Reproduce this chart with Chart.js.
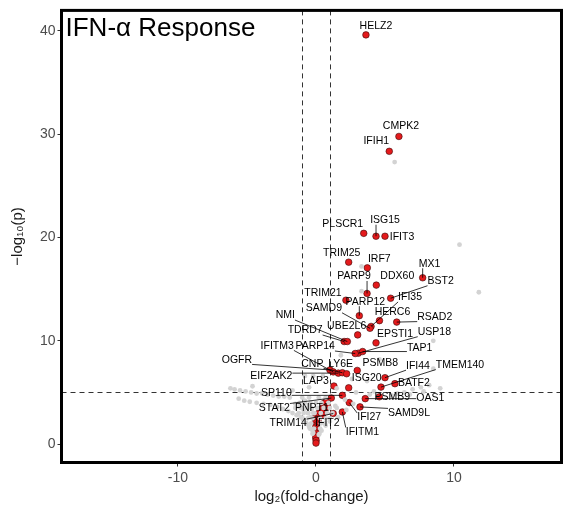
<!DOCTYPE html>
<html>
<head>
<meta charset="utf-8">
<script src="https://cdn.jsdelivr.net/npm/chart.js@4.4.1/dist/chart.umd.min.js"></script>
<style>
  html, body { margin: 0; padding: 0; background: #fff; }
  canvas { display: block; }
</style>
</head>
<body>
<canvas id="volcano" width="563" height="514"></canvas>
<script>
// labelled significant genes: log2 fold-change and -log10 p
const geneNames = ["HELZ2", "CMPK2", "IFIH1", "PLSCR1", "ISG15", "IFIT3", "TRIM25", "IRF7", "PARP9", "DDX60",
  "MX1", "BST2", "TRIM21", "PARP12", "IFI35", "SAMD9", "HERC6", "RSAD2", "UBE2L6", "TDRD7",
  "NMI", "EPSTI1", "USP18", "TAP1", "PARP14", "OGFR", "IFITM3", "EIF2AK2", "CNP", "LY6E",
  "PSMB8", "ISG20", "IFI44", "TMEM140", "BATF2", "LAP3", "SP110", "PSMB9", "OAS1", "STAT2",
  "PNPT1", "SAMD9L", "IFI27", "TRIM14", "IFIT2", "IFITM1"];
const geneLogFC = [3.62, 6.01, 5.31, 3.46, 4.35, 5.00, 2.37, 3.72, 3.70, 4.37,
  7.73, 5.41, 2.17, 3.14, 3.99, 3.91, 4.60, 5.85, 3.02, 2.04,
  2.27, 4.35, 3.07, 3.38, 2.84, 1.01, 1.25, 1.62, 1.91, 2.22,
  2.99, 2.37, 5.00, 4.71, 5.72, 1.30, 1.91, 4.59, 3.57, 1.11,
  0.72, 3.19, 2.41, 1.25, 0.46, 1.91];
const geneLogP = [39.61, 29.78, 28.34, 20.40, 20.12, 20.12, 17.61, 17.06, 14.58, 15.39,
  16.10, 14.12, 13.93, 12.43, 11.39, 11.21, 11.95, 11.81, 10.57, 9.93,
  9.93, 9.80, 8.80, 8.96, 8.77, 7.18, 6.99, 6.87, 6.91, 6.81,
  7.13, 5.45, 6.43, 5.52, 5.85, 5.62, 4.72, 4.58, 4.40, 4.46,
  4.05, 3.60, 4.02, 2.96, 2.80, 3.11];

// unlabelled significant genes
const otherLogFC = [0.85, 0.53, 0.78, 0.60, 0.22, 0.24, 0.41, 0.53, 0.17, 0.00, -0.07, 0.05, 0.17,
  0.02, -0.03, 0.03, -0.02, 0.01, -0.03, 0.02, 0.00, -0.02, 0.01, 0.00];
const otherLogP = [3.60, 3.60, 3.85, 3.98, 2.96, 2.70, 3.37, 3.18, 2.96, 2.70, 2.48, 2.38, 2.15,
  2.25, 2.05, 1.85, 1.65, 1.45, 1.25, 1.05, 0.85, 0.60, 0.35, 0.10];

// background (not significant) genes
const bgLogFC = [5.7, 3.3, 3.3, 10.4, 11.8, 8.5, 4.6, 8.5, 7.6, 8.2, 7.0, 6.4, 5.5, 5.9, 6.8, 7.8, 9.0,
  4.2, 3.7, 2.6, 1.8, 0.5, 1.5, 2.9, 3.9, 2.1, 2.7, 1.4, 2.2, 1.6, 1.0, 0.7, 0.4, 0.2,
  -6.2, -5.9, -5.5, -5.1, -4.7, -4.3, -3.9, -3.5, -3.1, -2.7, -2.3, -1.9,
  -5.6, -5.2, -4.8, -4.3, -3.8, -3.3, -2.8, -2.4, -2.0, -1.7, -1.4, -1.1, -0.9, -0.7, -0.5, -0.3, -0.2,
  -1.5, -1.2, -0.9, -0.6, -0.4, -0.8, -0.5, -0.3, -0.1, -0.8, -0.2, -1.7, -0.5, -4.6,
  -0.25, 0.25, -0.45, -0.15, 0.3, -0.7, -0.35, 0.35, 0.65,
  -0.95, -0.6, -0.25, 0.3, 0.7, 1.0, -1.25, -0.9, -0.55, -0.2, 0.35, 0.8, 1.2,
  -1.5, -1.1, -0.7, -0.35, 0.1, 0.55, 1.0, 1.5, -1.2, -0.8, -0.4, 0.0, 0.4, 0.9,
  -1.0, -0.5, 0.2, 0.7];
const bgLogP = [27.3, 17.2, 14.8, 19.3, 14.7, 10.0, 8.2, 7.3, 5.5, 5.7, 5.3, 5.0, 4.7, 4.9, 4.8, 5.1, 5.4,
  5.1, 6.1, 6.3, 8.6, 6.6, 5.4, 5.0, 4.8, 4.3, 3.9, 3.7, 3.3, 2.6, 2.2, 1.8, 1.3, 0.9,
  5.4, 5.3, 5.2, 5.1, 5.0, 4.9, 4.9, 4.8, 4.7, 4.6, 4.6, 4.5,
  4.4, 4.2, 4.1, 4.0, 3.9, 3.8, 3.6, 3.4, 3.2, 3.0, 2.8, 2.6, 2.3, 2.0, 1.7, 1.4, 1.1,
  3.9, 3.6, 3.3, 3.0, 2.6, 4.2, 3.8, 3.4, 3.0, 6.6, 6.6, 5.2, 5.5, 5.6,
  1.0, 1.0, 1.5, 1.5, 1.5, 2.0, 2.0, 2.0, 2.0,
  2.5, 2.5, 2.5, 2.5, 2.5, 2.5, 3.0, 3.0, 3.0, 3.0, 3.0, 3.0, 3.0,
  3.5, 3.5, 3.5, 3.5, 3.5, 3.5, 3.5, 3.5, 4.0, 4.0, 4.0, 4.0, 4.0, 4.0,
  4.5, 4.5, 4.5, 4.5];

const xTicks = [-10, 0, 10];
const yTicks = [0, 10, 20, 30, 40];
const fcCutoff = 1;
const pCutoff = 5;
const chartTitle = "IFN-\u03b1 Response";

// where each gene label sits relative to its point, in pixels
const labelOffsets = {
  HELZ2: [10, -9], CMPK2: [2, -10], IFIH1: [-13, -10], PLSCR1: [-21, -9], ISG15: [9, -16],
  IFIT3: [17, 1], TRIM25: [-7, -9], IRF7: [12, -9], PARP9: [-13, -17], DDX60: [21, -9],
  MX1: [7, -14], BST2: [50, -17], TRIM21: [-23, -7], PARP12: [6, -14], IFI35: [39, -29],
  SAMD9: [-46, -20], HERC6: [13, -9], RSAD2: [38, -5], UBE2L6: [-11, -9], TDRD7: [-39, -11],
  NMI: [-62, -26], EPSTI1: [19, -9], USP18: [76, -21], TAP1: [57, -3], PARP14: [-40, -7],
  OGFR: [-93, -10], IFITM3: [-56, -26], EIF2AK2: [-67, 3], CNP: [-30, -9], LY6E: [-6, -10],
  PSMB8: [23, -7], ISG20: [18, -10], IFI44: [33, -12], TMEM140: [79, -22], BATF2: [19, -1],
  LAP3: [-18, -5], SP110: [-66, -2], PSMB9: [13, 0], OAS1: [65, -1], STAT2: [-57, 10],
  PNPT1: [-14, 6], SAMD9L: [49, 6], IFI27: [20, 15], TRIM14: [-45, 10], IFIT2: [5, 8],
  IFITM1: [20, 20]
};

const FONT = "'Liberation Sans', Arial, Helvetica, sans-serif";

const overlay = {
  id: "overlay",
  beforeDatasetsDraw(chart) {
    const { ctx, chartArea: a, scales: { x, y } } = chart;
    ctx.save();
    ctx.strokeStyle = "#333";
    ctx.lineWidth = 1;
    ctx.setLineDash([5, 4]);
    ctx.beginPath();
    [-fcCutoff, fcCutoff].forEach(v => {
      const px = Math.round(x.getPixelForValue(v)) + 0.5;
      ctx.moveTo(px, a.top);
      ctx.lineTo(px, a.bottom);
    });
    const py = Math.round(y.getPixelForValue(pCutoff)) + 0.5;
    ctx.moveTo(a.left, py);
    ctx.lineTo(a.right, py);
    ctx.stroke();
    ctx.restore();
  },
  afterDatasetsDraw(chart) {
    const { ctx, chartArea: a, scales: { x, y } } = chart;
    ctx.save();
    ctx.font = "10.5px " + FONT;
    ctx.textAlign = "center";
    ctx.textBaseline = "middle";
    geneNames.forEach((name, i) => {
      const px = x.getPixelForValue(geneLogFC[i]);
      const py = y.getPixelForValue(geneLogP[i]);
      const [dx, dy] = labelOffsets[name];
      const cx = px + dx, cy = py + dy;
      const w = ctx.measureText(name).width;
      const h = 9;
      // leader line from nearest edge of label box
      const ex = Math.min(Math.max(px, cx - w / 2), cx + w / 2);
      const ey = Math.min(Math.max(py, cy - h / 2), cy + h / 2);
      if (Math.hypot(ex - px, ey - py) > 7) {
        ctx.strokeStyle = "#000";
        ctx.lineWidth = 0.8;
        ctx.beginPath();
        ctx.moveTo(ex, ey);
        ctx.lineTo(px, py);
        ctx.stroke();
      }
      ctx.fillStyle = "#000";
      ctx.fillText(name, cx, cy);
    });

    // frame
    ctx.strokeStyle = "#000";
    ctx.lineWidth = 3;
    ctx.strokeRect(a.left, a.top, a.right - a.left, a.bottom - a.top);

    // panel title
    ctx.font = "26px " + FONT;
    ctx.textAlign = "left";
    ctx.textBaseline = "alphabetic";
    ctx.fillStyle = "#000";
    ctx.fillText(chartTitle, a.left + 4, a.top + 26);
    ctx.restore();
  }
};

const ctx = document.getElementById("volcano").getContext("2d");

new Chart(ctx, {
  type: "scatter",
  data: {
    datasets: [
      {
        label: "not significant",
        data: bgLogFC.map((v, i) => ({ x: v, y: bgLogP[i] })),
        backgroundColor: "#d3d3d3",
        borderWidth: 0,
        pointRadius: 2.4
      },
      {
        label: "significant",
        data: otherLogFC.map((v, i) => ({ x: v, y: otherLogP[i] }))
          .concat(geneLogFC.map((v, i) => ({ x: v, y: geneLogP[i] }))),
        backgroundColor: "#e41a1c",
        borderColor: "#3a0a0a",
        borderWidth: 0.6,
        pointRadius: 3.3
      }
    ]
  },
  options: {
    responsive: false,
    animation: false,
    events: [],
    layout: { autoPadding: false, padding: { top: 8.5, right: 1.5, left: 0, bottom: 0 } },
    plugins: { legend: { display: false }, tooltip: { enabled: false } },
    scales: {
      x: {
        type: "linear",
        min: -18.44,
        max: 17.79,
        afterBuildTicks: s => { s.ticks = xTicks.map(v => ({ value: v })); },
        ticks: { color: "#4d4d4d", font: { size: 14, family: FONT }, padding: 3 },
        grid: { drawOnChartArea: false, drawTicks: true, tickLength: 4, color: "#333" },
        border: { display: false },
        title: {
          display: true,
          text: "log\u2082(fold-change)",
          color: "#1a1a1a",
          font: { size: 15, family: FONT },
          padding: { top: 4, bottom: 8 }
        },
        afterFit: s => { s.height = 51.5; }
      },
      y: {
        type: "linear",
        min: -1.78,
        max: 41.98,
        afterBuildTicks: s => { s.ticks = yTicks.map(v => ({ value: v })); },
        ticks: { color: "#4d4d4d", font: { size: 14, family: FONT }, padding: 2 },
        grid: { drawOnChartArea: false, drawTicks: true, tickLength: 4, color: "#333" },
        border: { display: false },
        title: {
          display: true,
          text: "\u2212log\u2081\u2080(p)",
          color: "#1a1a1a",
          font: { size: 15, family: FONT },
          padding: { top: 9, bottom: 0 }
        },
        afterFit: s => { s.width = 61.5; }
      }
    }
  },
  plugins: [overlay]
});
</script>
</body>
</html>
